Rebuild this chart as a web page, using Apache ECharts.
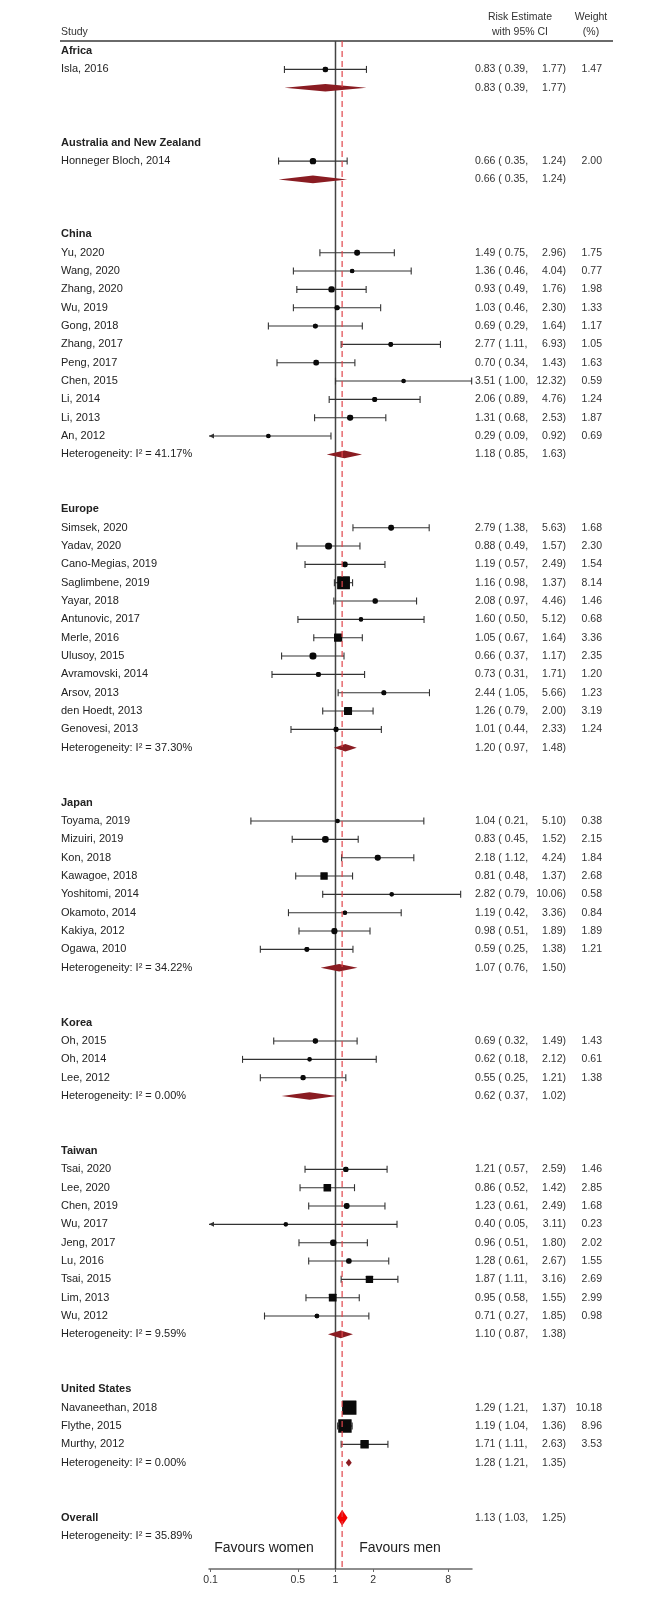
<!DOCTYPE html>
<html><head><meta charset="utf-8">
<script src="https://cdn.jsdelivr.net/npm/echarts@6/dist/echarts.min.js"></script>
<style>html,body{margin:0;padding:0;background:#fff}#c{width:670px;height:1599px}</style>
</head><body><div id="c"></div>
<script>
// ---------- DATA ----------
const groupNames = ['Africa', 'Australia and New Zealand', 'China', 'Europe', 'Japan', 'Korea', 'Taiwan', 'United States'];
const groupEst = [0.83, 0.66, 1.18, 1.20, 1.07, 0.62, 1.10, 1.28];
const groupLo  = [0.39, 0.35, 0.85, 0.97, 0.76, 0.37, 0.87, 1.21];
const groupHi  = [1.77, 1.24, 1.63, 1.48, 1.50, 1.02, 1.38, 1.35];
const groupI2  = [null, null, '41.17', '37.30', '34.22', '0.00', '9.59', '0.00'];

const studyNames = [
  'Isla, 2016',
  'Honneger Bloch, 2014',
  'Yu, 2020', 'Wang, 2020', 'Zhang, 2020', 'Wu, 2019', 'Gong, 2018', 'Zhang, 2017', 'Peng, 2017', 'Chen, 2015', 'Li, 2014', 'Li, 2013', 'An, 2012',
  'Simsek, 2020', 'Yadav, 2020', 'Cano-Megias, 2019', 'Saglimbene, 2019', 'Yayar, 2018', 'Antunovic, 2017', 'Merle, 2016', 'Ulusoy, 2015', 'Avramovski, 2014', 'Arsov, 2013', 'den Hoedt, 2013', 'Genovesi, 2013',
  'Toyama, 2019', 'Mizuiri, 2019', 'Kon, 2018', 'Kawagoe, 2018', 'Yoshitomi, 2014', 'Okamoto, 2014', 'Kakiya, 2012', 'Ogawa, 2010',
  'Oh, 2015', 'Oh, 2014', 'Lee, 2012',
  'Tsai, 2020', 'Lee, 2020', 'Chen, 2019', 'Wu, 2017', 'Jeng, 2017', 'Lu, 2016', 'Tsai, 2015', 'Lim, 2013', 'Wu, 2012',
  'Navaneethan, 2018', 'Flythe, 2015', 'Murthy, 2012'
];
const studyGroup = [
  0,
  1,
  2, 2, 2, 2, 2, 2, 2, 2, 2, 2, 2,
  3, 3, 3, 3, 3, 3, 3, 3, 3, 3, 3, 3,
  4, 4, 4, 4, 4, 4, 4, 4,
  5, 5, 5,
  6, 6, 6, 6, 6, 6, 6, 6, 6,
  7, 7, 7
];
const studyEst = [
  0.83,
  0.66,
  1.49, 1.36, 0.93, 1.03, 0.69, 2.77, 0.70, 3.51, 2.06, 1.31, 0.29,
  2.79, 0.88, 1.19, 1.16, 2.08, 1.60, 1.05, 0.66, 0.73, 2.44, 1.26, 1.01,
  1.04, 0.83, 2.18, 0.81, 2.82, 1.19, 0.98, 0.59,
  0.69, 0.62, 0.55,
  1.21, 0.86, 1.23, 0.40, 0.96, 1.28, 1.87, 0.95, 0.71,
  1.29, 1.19, 1.71
];
const studyLo = [
  0.39,
  0.35,
  0.75, 0.46, 0.49, 0.46, 0.29, 1.11, 0.34, 1.00, 0.89, 0.68, 0.09,
  1.38, 0.49, 0.57, 0.98, 0.97, 0.50, 0.67, 0.37, 0.31, 1.05, 0.79, 0.44,
  0.21, 0.45, 1.12, 0.48, 0.79, 0.42, 0.51, 0.25,
  0.32, 0.18, 0.25,
  0.57, 0.52, 0.61, 0.05, 0.51, 0.61, 1.11, 0.58, 0.27,
  1.21, 1.04, 1.11
];
const studyHi = [
  1.77,
  1.24,
  2.96, 4.04, 1.76, 2.30, 1.64, 6.93, 1.43, 12.32, 4.76, 2.53, 0.92,
  5.63, 1.57, 2.49, 1.37, 4.46, 5.12, 1.64, 1.17, 1.71, 5.66, 2.00, 2.33,
  5.10, 1.52, 4.24, 1.37, 10.06, 3.36, 1.89, 1.38,
  1.49, 2.12, 1.21,
  2.59, 1.42, 2.49, 3.11, 1.80, 2.67, 3.16, 1.55, 1.85,
  1.37, 1.36, 2.63
];
const studyWeight = [
  1.47,
  2.00,
  1.75, 0.77, 1.98, 1.33, 1.17, 1.05, 1.63, 0.59, 1.24, 1.87, 0.69,
  1.68, 2.30, 1.54, 8.14, 1.46, 0.68, 3.36, 2.35, 1.20, 1.23, 3.19, 1.24,
  0.38, 2.15, 1.84, 2.68, 0.58, 0.84, 1.89, 1.21,
  1.43, 0.61, 1.38,
  1.46, 2.85, 1.68, 0.23, 2.02, 1.55, 2.69, 2.99, 0.98,
  10.18, 8.96, 3.53
];
const overallEst = 1.13, overallLo = 1.03, overallHi = 1.25;
const overallI2 = '35.89';
const xTickValues = [0.1, 0.5, 1, 2, 8];
const xMin = 0.097, xMax = 12.4;

// ---------- ROW LAYOUT (row index per line) ----------
const textRows = [];   // [row, kind(0 header,1 study,2 summary,3 overall,4 overall het), idx]
const ciRows = [];     // [est, lo, hi, row, weight]
const diaRows = [];    // [est, lo, hi, row, kind]
const numRows = [];    // [row, kind, idx]
let row = 1;
groupNames.forEach((g, gi) => {
  textRows.push([row, 0, gi]); row++;
  studyNames.forEach((s, si) => {
    if (studyGroup[si] !== gi) return;
    textRows.push([row, 1, si]);
    numRows.push([row, 1, si]);
    ciRows.push([studyEst[si], studyLo[si], studyHi[si], row, studyWeight[si]]);
    row++;
  });
  textRows.push([row, 2, gi]);
  numRows.push([row, 2, gi]);
  diaRows.push([groupEst[gi], groupLo[gi], groupHi[gi], row, 0]);
  row += 3;
});
textRows.push([row, 3, 0]);
numRows.push([row, 3, 0]);
diaRows.push([overallEst, overallLo, overallHi, row, 1]);
textRows.push([row + 1, 4, 0]);

const FONT = '"Liberation Sans", Arial, sans-serif';
const f2 = v => v.toFixed(2);
const L = Math.log10;

function txt(x, y, text, opt) {
  opt = opt || {};
  return {
    type: 'text',
    style: {
      x: x, y: y, text: text,
      fill: opt.fill || '#222',
      font: (opt.weight || 'normal') + ' ' + (opt.size || 11) + 'px ' + FONT,
      align: opt.align || 'left', verticalAlign: 'middle',
      textAlign: opt.align || 'left', textVerticalAlign: 'middle'
    }
  };
}

const chart = echarts.init(document.getElementById('c'), null, { renderer: 'canvas' });

const option = {
  animation: false,
  backgroundColor: '#fff',
  grid: { left: 209, right: 198, top: 41, bottom: 30 },
  xAxis: {
    type: 'value',
    min: L(xMin), max: L(xMax),
    splitLine: { show: false },
    axisLine: { show: true, onZero: false, lineStyle: { color: '#6a6a6a', width: 1.5 } },
    axisTick: { show: true, length: 3, customValues: xTickValues.map(L), lineStyle: { color: '#6a6a6a' } },
    axisLabel: {
      customValues: xTickValues.map(L),
      formatter: v => String(+Math.pow(10, v).toPrecision(2)),
      color: '#333', fontSize: 10.5, fontFamily: FONT, margin: 6
    }
  },
  yAxis: { type: 'value', inverse: true, min: 0.45, max: 83.8, show: false },
  graphic: [
    { type: 'line', shape: { x1: 60, y1: 41, x2: 613, y2: 41 }, style: { stroke: '#6a6a6a', lineWidth: 1.8 }, z: 1 },
    { type: 'text', x: 61, y: 32, style: { text: 'Study', font: '10.5px ' + FONT, fill: '#333', verticalAlign: 'middle' } },
    { type: 'text', x: 520, y: 17, style: { text: 'Risk Estimate', font: '10.5px ' + FONT, fill: '#333', align: 'center', verticalAlign: 'middle' } },
    { type: 'text', x: 520, y: 32, style: { text: 'with 95% CI', font: '10.5px ' + FONT, fill: '#333', align: 'center', verticalAlign: 'middle' } },
    { type: 'text', x: 591, y: 17, style: { text: 'Weight', font: '10.5px ' + FONT, fill: '#333', align: 'center', verticalAlign: 'middle' } },
    { type: 'text', x: 591, y: 32, style: { text: '(%)', font: '10.5px ' + FONT, fill: '#333', align: 'center', verticalAlign: 'middle' } },
    { type: 'text', x: 264, y: 1548, style: { text: 'Favours women', font: '14px ' + FONT, fill: '#222', align: 'center', verticalAlign: 'middle' } },
    { type: 'text', x: 400, y: 1548, style: { text: 'Favours men', font: '14px ' + FONT, fill: '#222', align: 'center', verticalAlign: 'middle' } }
  ],
  series: [
    // solid reference line at 1
    {
      type: 'custom', z: 1, clip: false,
      data: [[1]],
      renderItem: (params, api) => {
        const cs = params.coordSys;
        const x = api.coord([L(api.value(0)), 1])[0];
        return { type: 'line', shape: { x1: x, y1: cs.y, x2: x, y2: cs.y + cs.height }, style: { stroke: '#444', lineWidth: 1.5 } };
      }
    },
    // left text column
    {
      type: 'custom', z: 3, clip: false,
      data: textRows,
      renderItem: (params, api) => {
        const r = api.value(0), kind = api.value(1), idx = api.value(2);
        const y = api.coord([0, r])[1];
        let text = '', weight = 'normal';
        if (kind === 0) { text = groupNames[idx]; weight = 'bold'; }
        else if (kind === 1) { text = studyNames[idx]; }
        else if (kind === 2) { text = groupI2[idx] === null ? '' : 'Heterogeneity: I\u00B2 = ' + groupI2[idx] + '%'; }
        else if (kind === 3) { text = 'Overall'; weight = 'bold'; }
        else { text = 'Heterogeneity: I\u00B2 = ' + overallI2 + '%'; }
        return txt(61, y, text, { weight: weight, size: 11 });
      }
    },
    // numeric columns
    {
      type: 'custom', z: 3, clip: false,
      data: numRows,
      renderItem: (params, api) => {
        const r = api.value(0), kind = api.value(1), idx = api.value(2);
        const y = api.coord([0, r])[1];
        let e, lo, hi, w = null;
        if (kind === 1) { e = studyEst[idx]; lo = studyLo[idx]; hi = studyHi[idx]; w = studyWeight[idx]; }
        else if (kind === 2) { e = groupEst[idx]; lo = groupLo[idx]; hi = groupHi[idx]; }
        else { e = overallEst; lo = overallLo; hi = overallHi; }
        const children = [
          txt(475, y, f2(e) + ' ( ' + f2(lo) + ',', { size: 10.5, fill: '#333' }),
          txt(566, y, f2(hi) + ')', { size: 10.5, fill: '#333', align: 'right' })
        ];
        if (w !== null) children.push(txt(602, y, f2(w), { size: 10.5, fill: '#333', align: 'right' }));
        return { type: 'group', children: children };
      }
    },
    // study CIs and weight boxes
    {
      type: 'custom', z: 4, clip: false,
      data: ciRows,
      renderItem: (params, api) => {
        const cs = params.coordSys;
        const e = api.value(0), lo = api.value(1), hi = api.value(2), r = api.value(3), w = api.value(4);
        const pE = api.coord([L(e), r]);
        const y = pE[1];
        const leftClip = lo < xMin, rightClip = hi > xMax;
        const xL = leftClip ? cs.x : api.coord([L(lo), r])[0];
        const xR = rightClip ? cs.x + cs.width : api.coord([L(hi), r])[0];
        const col = '#333';
        const ch = [{ type: 'line', shape: { x1: xL, y1: y, x2: xR, y2: y }, style: { stroke: col, lineWidth: 1.1 } }];
        if (leftClip) ch.push({ type: 'polygon', shape: { points: [[xL, y], [xL + 5, y - 2.5], [xL + 5, y + 2.5]] }, style: { fill: col } });
        else ch.push({ type: 'line', shape: { x1: xL, y1: y - 3.5, x2: xL, y2: y + 3.5 }, style: { stroke: col, lineWidth: 1.1 } });
        if (rightClip) ch.push({ type: 'polygon', shape: { points: [[xR, y], [xR - 5, y - 2.5], [xR - 5, y + 2.5]] }, style: { fill: col } });
        else ch.push({ type: 'line', shape: { x1: xR, y1: y - 3.5, x2: xR, y2: y + 3.5 }, style: { stroke: col, lineWidth: 1.1 } });
        const s = 4.5 * Math.sqrt(w);
        ch.push({ type: 'rect', shape: { x: pE[0] - s / 2, y: y - s / 2, width: s, height: s, r: s < 7 ? s * 0.4 : 0.5 }, style: { fill: '#0a0a0a' } });
        ch.push({ type: 'circle', shape: { cx: pE[0], cy: y, r: 2.3 }, style: { fill: '#0a0a0a' } });
        return { type: 'group', children: ch };
      }
    },
    // diamonds
    {
      type: 'custom', z: 5, clip: false,
      data: diaRows,
      renderItem: (params, api) => {
        const e = api.value(0), lo = api.value(1), hi = api.value(2), r = api.value(3), kind = api.value(4);
        const pE = api.coord([L(e), r]);
        const xL = api.coord([L(lo), r])[0], xR = api.coord([L(hi), r])[0];
        const h = kind === 1 ? 8 : 3.8;
        return {
          type: 'polygon',
          shape: { points: [[xL, pE[1]], [pE[0], pE[1] - h], [xR, pE[1]], [pE[0], pE[1] + h]] },
          style: { fill: kind === 1 ? '#f40000' : '#8a1c22' }
        };
      }
    },
    // dashed overall line
    {
      type: 'custom', z: 6, clip: false,
      data: [[overallEst]],
      renderItem: (params, api) => {
        const cs = params.coordSys;
        const x = api.coord([L(api.value(0)), 1])[0];
        return { type: 'line', shape: { x1: x, y1: cs.y, x2: x, y2: cs.y + cs.height }, style: { stroke: '#e0464b', lineWidth: 1.2, lineDash: [6, 4] } };
      }
    }
  ]
};
chart.setOption(option);
</script>
</body></html>
